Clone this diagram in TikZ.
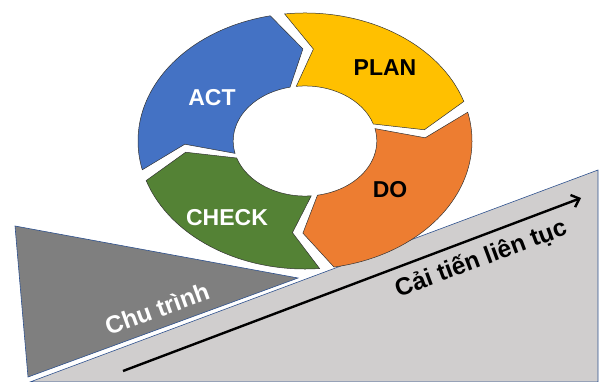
\documentclass[tikz,border=0pt]{standalone}
\usepackage{fontspec}
\setmainfont{Liberation Sans}
\usetikzlibrary{arrows.meta}
\definecolor{planyellow}{HTML}{FFC000}
\definecolor{doorange}{HTML}{ED7D31}
\definecolor{checkgreen}{HTML}{548235}
\definecolor{actblue}{HTML}{4472C4}
\definecolor{rampgray}{HTML}{D0CECE}
\definecolor{wedgegray}{HTML}{7F7F7F}
\definecolor{edgeblue}{HTML}{2F528F}
% one arrow piece of the ring: start angle, end angle, colour
\newcommand\ringpart[3]{%
  \draw[segment, fill=#3] (#1:1) arc[start angle=#1, end angle=#2, radius=1]
    -- ({#2-11}:.72) -- (#2:.43) arc[start angle=#2, end angle=#1, radius=.43]
    -- ({#1-11}:.72) -- cycle;}

\begin{document}
\begin{tikzpicture}[x=1pt, y=1pt,
    segment/.style={draw=black!80, line width=.5pt},
    ground/.style={draw=edgeblue, line width=.6pt},
    word/.style={font=\bfseries\fontsize{23}{23}\selectfont, inner sep=0pt},
    slopeword/.style={font=\bfseries\fontsize{24.5}{24.5}\selectfont, inner sep=0pt}]
    \useasboundingbox (0,0) rectangle (601,381);
    \draw[ground, fill=wedgegray] (15,155) -- (28,4) -- (298,103) -- cycle;
    \draw[ground, fill=rampgray] (30,-1) -- (598,211) -- (598,-1) -- cycle;
    \coordinate (arrowStart) at (123,10);
    \coordinate (arrowEnd) at (581,183);
    \draw[line width=2.4pt, -{Straight Barb[length=7pt, width=13pt]}] (arrowStart) -- (arrowEnd);
    \node[slopeword, white, rotate=20] (cycle) at (157,72) {Chu trình};
    \node[slopeword, rotate=20.5] (improve) at (481,122) {Cải tiến liên tục};

    \begin{scope}[shift={(305,240)}, xscale=167, yscale=128]
        \ringpart{97}{18}{planyellow}
        \ringpart{13}{-80}{doorange}
        \ringpart{-85}{-162}{checkgreen}
        \ringpart{193}{102}{actblue}
    \end{scope}
    \node[word] (plan) at (385,313) {PLAN};
    \node[word] (do) at (390,191) {DO};
    \node[word, white] (check) at (227,163) {CHECK};
    \node[word, white] (act) at (212,283) {ACT};
\end{tikzpicture}
\end{document}
